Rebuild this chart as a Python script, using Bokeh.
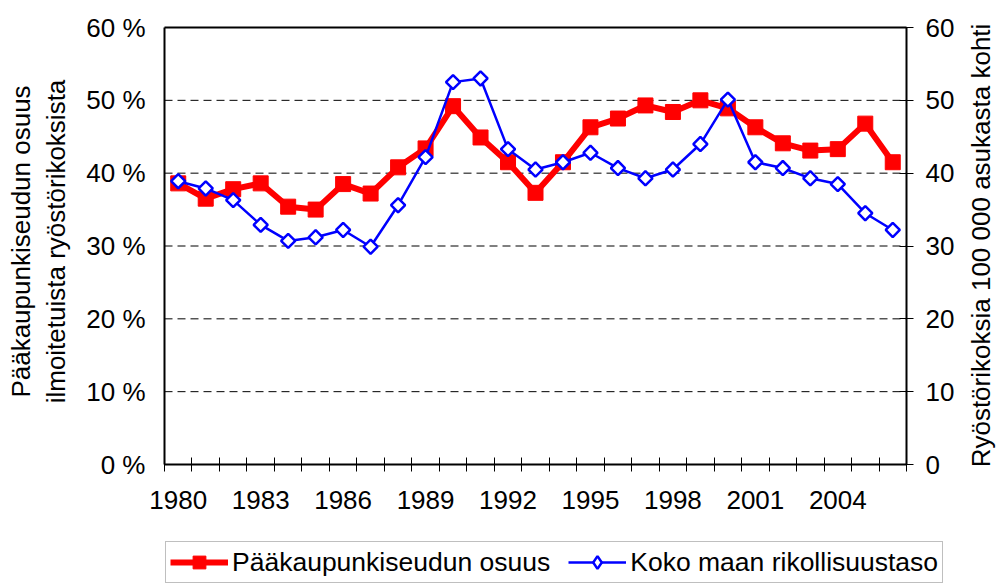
import math
from bokeh.plotting import figure
from bokeh.models import (Range1d, LinearAxis, FixedTicker, Legend, LegendItem,
                          ColumnDataSource, Label)
from bokeh.embed import file_html
from bokeh.resources import INLINE

# ---- data ----
years = list(range(1980, 2007))
share_pct = [38.6, 36.5, 37.8, 38.6, 35.4, 35.0, 38.5, 37.2, 40.8, 43.4, 49.2, 44.9, 41.5, 37.3,
             41.5, 46.3, 47.5, 49.3, 48.4, 50.0, 48.9, 46.3, 44.1, 43.1, 43.3, 46.8, 41.5]
crime_rate = [38.9, 37.9, 36.3, 32.9, 30.7, 31.2, 32.2, 29.9, 35.6, 42.2, 52.5, 53.0, 43.3, 40.5,
              41.5, 42.8, 40.7, 39.3, 40.5, 44.0, 50.1, 41.5, 40.7, 39.3, 38.5, 34.5, 32.2]
x_label_years = years[::3]
left_ticks = [0, 10, 20, 30, 40, 50, 60]
left_tick_labels = ["0 %", "10 %", "20 %", "30 %", "40 %", "50 %", "60 %"]
right_ticks = [0, 10, 20, 30, 40, 50, 60]
series_names = ["Pääkaupunkiseudun osuus", "Koko maan rikollisuustaso"]
left_title = "Pääkaupunkiseudun osuus\nilmoitetuista ryöstörikoksista"
right_title = "Ryöstörikoksia 100 000 asukasta kohti"

FONT = "Liberation Sans"
FS = "26px"

# ---- layout constants (canvas pixels) ----
CANVAS_W, CANVAS_H = 997, 583
BOX_L, BOX_R, BOX_T, BOX_B = 164, 906, 27, 464   # the drawn plot box
# the bokeh frame covers the whole canvas; axes are drawn at fixed locations
x_lo, x_box_hi = years[0] - 0.5, years[-1] + 0.5
px_per_x = (BOX_R - BOX_L) / (x_box_hi - x_lo)
x_min = x_lo - BOX_L / px_per_x
x_max = x_box_hi + (CANVAS_W - BOX_R) / px_per_x
y_bot, y_top = left_ticks[0], left_ticks[-1]
px_per_y = (BOX_B - BOX_T) / (y_top - y_bot)
y_min = y_bot - (CANVAS_H - BOX_B) / px_per_y
y_max = y_top + BOX_T / px_per_y

src = ColumnDataSource(dict(x=years, share=share_pct, rate=crime_rate))
grid_y = left_ticks[1:-1]
grid_src = ColumnDataSource(dict(y=grid_y, x0=[x_lo] * len(grid_y), x1=[x_box_hi] * len(grid_y)))

p = figure(width=CANVAS_W, height=CANVAS_H,
           x_range=Range1d(x_min, x_max), y_range=Range1d(y_min, y_max),
           output_backend="svg", toolbar_location=None, min_border=0,
           background_fill_color="white", border_fill_color="white")
p.title.visible = False
p.extra_y_ranges = {"rate": Range1d(y_min, y_max), "legend_only": Range1d(1000, 1100)}
p.outline_line_color = None
p.xgrid.visible = False
p.ygrid.visible = False

# dashed horizontal gridlines inside the plot box
p.segment(x0="x0", y0="y", x1="x1", y1="y", source=grid_src,
          line_color="black", line_width=1, line_dash="8 5")

# bottom x axis drawn at y = 0
boundaries = [y - 0.5 for y in years] + [years[-1] + 0.5]
xa = p.xaxis[0]
xa.fixed_location = y_bot
xa.bounds = (x_lo, x_box_hi)
xa.ticker = FixedTicker(ticks=x_label_years, minor_ticks=boundaries)
xa.major_label_overrides = {y: str(y) for y in x_label_years}
xa.major_tick_line_color = None
xa.major_tick_in = 0
xa.major_tick_out = 0
xa.minor_tick_in = 7
xa.minor_tick_out = 7
xa.minor_tick_line_color = "black"
xa.minor_tick_line_width = 1
xa.axis_line_width = 2
xa.axis_line_color = "black"
xa.major_label_standoff = 19
xa.major_label_text_font = FONT
xa.major_label_text_font_size = FS
xa.major_label_text_color = "black"

# top border line of the plot box
top_ax = LinearAxis(fixed_location=y_top, bounds=(x_lo, x_box_hi), ticker=FixedTicker(ticks=[]))
top_ax.axis_line_width = 2
top_ax.axis_line_color = "black"
top_ax.major_tick_line_color = None
top_ax.minor_tick_line_color = None
top_ax.major_label_text_font_size = "0px"
p.add_layout(top_ax, "above")

# left axis at the left edge of the plot box
ya = p.yaxis[0]
ya.fixed_location = x_lo
ya.bounds = (y_bot, y_top)
ya.ticker = FixedTicker(ticks=left_ticks)
ya.major_label_overrides = {t: l for t, l in zip(left_ticks, left_tick_labels)}
ya.major_tick_line_color = None
ya.major_tick_in = 0
ya.major_tick_out = 0
ya.minor_tick_line_color = None
ya.axis_line_width = 2
ya.axis_line_color = "black"
ya.major_label_standoff = 19
ya.major_label_text_font = FONT
ya.major_label_text_font_size = FS
ya.major_label_text_color = "black"

# right axis at the right edge of the plot box
ra = LinearAxis(y_range_name="rate", fixed_location=x_box_hi,
                bounds=(right_ticks[0], right_ticks[-1]), ticker=FixedTicker(ticks=right_ticks))
ra.major_tick_in = 7
ra.major_tick_out = 7
ra.major_tick_line_color = "black"
ra.minor_tick_line_color = None
ra.axis_line_width = 2
ra.axis_line_color = "black"
ra.major_label_standoff = 12
ra.major_label_text_font = FONT
ra.major_label_text_font_size = FS
ra.major_label_text_color = "black"
p.add_layout(ra, "right")

# axis titles (both read bottom-to-top)
lt = Label(x=38, x_units="screen", y=CANVAS_H - 241, y_units="screen",
           text=left_title, angle=math.pi / 2, text_align="center", text_baseline="middle",
           text_font=FONT, text_font_size=FS, text_color="black", text_line_height=1.15)
p.add_layout(lt)
rt = Label(x=980, x_units="screen", y=CANVAS_H - 245, y_units="screen",
           text=right_title, angle=math.pi / 2, text_align="center", text_baseline="middle",
           text_font=FONT, text_font_size=FS, text_color="black")
p.add_layout(rt)

# series
r_line = p.line("x", "share", source=src, line_color="#FF0000", line_width=6)
r_sq = p.scatter("x", "share", source=src, marker="square", size=15,
                 fill_color="#FF0000", line_color="#FF0000", line_width=1)
b_line = p.line("x", "rate", source=src, y_range_name="rate", line_color="#0000FF", line_width=2.5)
b_dia = p.scatter("x", "rate", source=src, y_range_name="rate", marker="square", angle=math.pi / 4,
                  size=10, fill_color="white", line_color="#0000FF", line_width=2.5)
# legend-only diamond glyph (same data, mapped to an off-screen range)
b_leg = p.scatter("x", "rate", source=src, y_range_name="legend_only", marker="diamond",
                  fill_color="white", line_color="#0000FF", line_width=2.5)

legend = Legend(items=[LegendItem(label=series_names[0], renderers=[r_line, r_sq]),
                       LegendItem(label=series_names[1], renderers=[b_line, b_leg])],
                location=(165, 0), orientation="horizontal")
legend.label_text_font = FONT
legend.label_text_font_size = "26.5px"
legend.label_text_color = "black"
legend.glyph_width = 58
legend.glyph_height = 32
legend.label_height = 30
legend.label_standoff = 4
legend.spacing = 18
legend.padding = 4
legend.margin = 0
legend.border_line_color = "#808080"
legend.border_line_width = 1.5
legend.background_fill_color = "white"
legend.background_fill_alpha = 1
p.add_layout(legend)

open("out.html", "w").write(file_html(p, INLINE))
